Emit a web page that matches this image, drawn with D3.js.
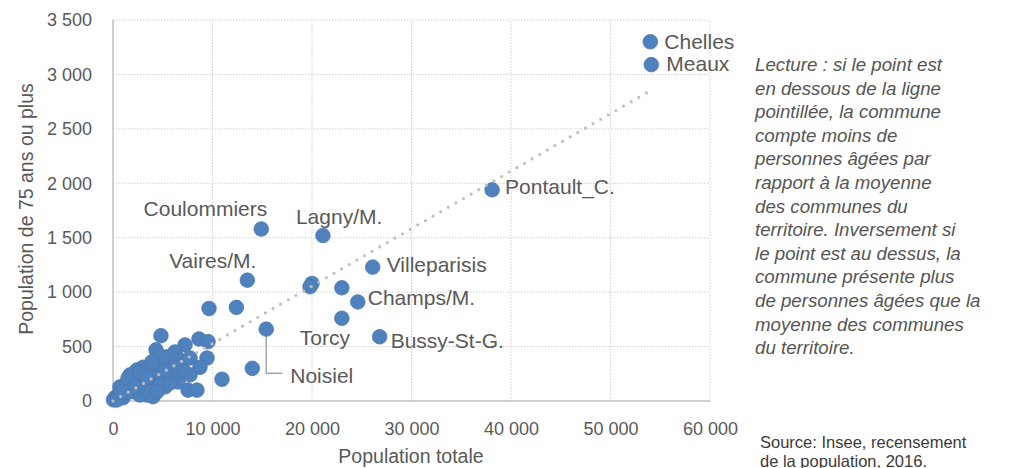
<!DOCTYPE html>
<html>
<head>
<meta charset="utf-8">
<script src="https://cdn.jsdelivr.net/npm/d3@7"></script>
<style>
  body { margin: 0; background: #fff; }
  svg { display: block; font-family: "Liberation Sans", Arial, sans-serif; }
</style>
</head>
<body>
<script>
// Labelled communes: total population and population aged 75+
var labelledNames = ["Chelles", "Meaux", "Pontault_C.", "Coulommiers", "Lagny/M.", "Villeparisis",
    "Vaires/M.", "Champs/M.", "Torcy", "Bussy-St-G.", "Noisiel"];
var labelledTotal = [54000, 54100, 38100, 14900, 21100, 26100, 13500, 24600, 23000, 26800, 15400];
var labelled75 = [3300, 3090, 1940, 1580, 1520, 1230, 1110, 910, 760, 590, 660];

// Other (unlabelled) communes
var otherTotal = [20000, 19800, 23000, 9650, 12400, 14000, 10950, 4820, 4320, 7240, 8640, 9550,
    9450, 8740, 7740, 7540, 8440, 6230, 5730, 6530, 5230, 3720, 3420, 2410, 1710, 1410, 700, 200,
    50, 1000, 2010, 2710, 3720, 4720, 5430, 4520, 6030, 6730, 3020, 2010, 500, 5430, 2710, 7040,
    4020, 400, 1200, 3220,
    1510, 2710, 4220, 3220, 4720, 5730, 6230, 5230, 1510, 2210, 900, 4420, 3420, 4920, 3920, 7740];
var other75 = [1080, 1050, 1040, 850, 860, 300, 200, 600, 470, 515, 570, 545,
    395, 310, 240, 100, 100, 450, 350, 175, 130, 100, 55, 285, 240, 165, 130, 30,
    10, 30, 85, 175, 285, 310, 405, 175, 255, 375, 310, 175, 55, 220, 55, 285,
    40, 10, 75, 150,
    210, 265, 210, 120, 145, 165, 330, 285, 85, 130, 85, 85, 210, 405, 360, 395];

// Dotted trend line (linear fit)
var trendX = [0, 54000];
var trendSlope = 0.0528;

var xTicks = [0, 10000, 20000, 30000, 40000, 50000, 60000];
var yTicks = [0, 500, 1000, 1500, 2000, 2500, 3000, 3500];

var lectureLines = [
    "Lecture : si le point est",
    "en dessous de la ligne",
    "pointillée, la commune",
    "compte moins de",
    "personnes âgées par",
    "rapport à la moyenne",
    "des communes du",
    "territoire. Inversement si",
    "le point est au dessus, la",
    "commune présente plus",
    "de personnes âgées que la",
    "moyenne des communes",
    "du territoire."
];
var sourceLines = ["Source: Insee, recensement", "de la population, 2016."];

var W = 1015, H = 468;
var textGrey = "#595959";

var svg = d3.select("body").append("svg")
    .attr("width", W)
    .attr("height", H);

var x = d3.scaleLinear().domain([0, 60000]).range([113, 710]);
var y = d3.scaleLinear().domain([0, 3500]).range([401, 20]);

var fr = d3.formatLocale({ decimal: ",", thousands: " ", grouping: [3], currency: ["", " €"] });
var fmt = fr.format(",d");

// Grid lines (dotted)
svg.append("g").selectAll("line")
    .data(yTicks.filter(d => d > 0))
    .join("line")
    .attr("x1", x(0)).attr("x2", x(60000))
    .attr("y1", d => y(d)).attr("y2", d => y(d))
    .attr("stroke", "#d0d0d0")
    .attr("stroke-dasharray", "1.5,1.5");

svg.append("g").selectAll("line")
    .data(xTicks.filter(d => d > 0))
    .join("line")
    .attr("x1", d => x(d)).attr("x2", d => x(d))
    .attr("y1", y(0)).attr("y2", y(3500))
    .attr("stroke", "#d0d0d0")
    .attr("stroke-dasharray", "1.5,1.5");

// Axis lines
svg.append("line")
    .attr("x1", x(0)).attr("x2", x(0))
    .attr("y1", y(0)).attr("y2", y(3500))
    .attr("stroke", "#bfbfbf").attr("stroke-width", 1.5);
svg.append("line")
    .attr("x1", x(0)).attr("x2", x(60000))
    .attr("y1", y(0)).attr("y2", y(0))
    .attr("stroke", "#bfbfbf").attr("stroke-width", 1.5);

// Axes (labels only)
var xAxis = svg.append("g")
    .attr("transform", "translate(0," + y(0) + ")")
    .call(d3.axisBottom(x).tickValues(xTicks).tickFormat(fmt).tickSize(0).tickPadding(21));
var yAxis = svg.append("g")
    .attr("transform", "translate(" + x(0) + ",0)")
    .call(d3.axisLeft(y).tickValues(yTicks).tickFormat(fmt).tickSize(0).tickPadding(21));
[xAxis, yAxis].forEach(a => {
    a.select(".domain").remove();
    a.selectAll("text")
        .attr("fill", textGrey)
        .style("font-size", "18px")
        .style("font-family", "'Liberation Sans', Arial, sans-serif");
});

// Axis titles
svg.append("text")
    .attr("x", 411).attr("y", 463)
    .attr("text-anchor", "middle")
    .attr("fill", textGrey)
    .style("font-size", "19.5px")
    .text("Population totale");
svg.append("text")
    .attr("transform", "translate(33,209) rotate(-90)")
    .attr("text-anchor", "middle")
    .attr("fill", textGrey)
    .style("font-size", "19.5px")
    .text("Population de 75 ans ou plus");

// Points
var otherPts = otherTotal.map((t, i) => ({ t: t, v: other75[i] }));
var labelPts = labelledNames.map((n, i) => ({ name: n, t: labelledTotal[i], v: labelled75[i] }));

svg.append("g").selectAll("circle")
    .data(otherPts.concat(labelPts))
    .join("circle")
    .attr("cx", d => x(d.t))
    .attr("cy", d => y(d.v))
    .attr("r", 7.3)
    .attr("fill", "#4f81bd")
    .attr("stroke", "#4a78b0")
    .attr("stroke-width", 0.8);

// Trend line, drawn over the points
svg.append("line")
    .attr("x1", x(trendX[0])).attr("y1", y(trendX[0] * trendSlope))
    .attr("x2", x(trendX[1])).attr("y2", y(trendX[1] * trendSlope))
    .attr("stroke", "#bfbfbf")
    .attr("stroke-width", 3.2)
    .attr("stroke-linecap", "round")
    .attr("stroke-dasharray", "0,8.8");

// Label placement (pixel offsets from the point)
var labelPos = {
    "Chelles": { dx: 14, dy: 0, anchor: "start" },
    "Meaux": { dx: 15, dy: -1, anchor: "start" },
    "Pontault_C.": { dx: 13, dy: -3, anchor: "start" },
    "Coulommiers": { dx: 6, dy: -21, anchor: "end" },
    "Lagny/M.": { dx: -27, dy: -19, anchor: "start" },
    "Villeparisis": { dx: 14, dy: -3, anchor: "start" },
    "Vaires/M.": { dx: 9, dy: -20, anchor: "end" },
    "Champs/M.": { dx: 10, dy: -4, anchor: "start" },
    "Torcy": { dx: -17, dy: 19, anchor: "middle" },
    "Bussy-St-G.": { dx: 11, dy: 4, anchor: "start" },
    "Noisiel": { dx: 24, dy: 46, anchor: "start" }
};

// Leader line for Noisiel
var noisiel = labelPts.find(d => d.name === "Noisiel");
svg.append("polyline")
    .attr("points", [
        [x(noisiel.t), y(noisiel.v) + 7],
        [x(noisiel.t), y(noisiel.v) + 44],
        [x(noisiel.t) + 16, y(noisiel.v) + 44]
    ].map(p => p.join(",")).join(" "))
    .attr("fill", "none")
    .attr("stroke", "#a6a6a6")
    .attr("stroke-width", 1.5);

svg.append("g").selectAll("text")
    .data(labelPts)
    .join("text")
    .attr("x", d => x(d.t) + labelPos[d.name].dx)
    .attr("y", d => y(d.v) + labelPos[d.name].dy)
    .attr("text-anchor", d => labelPos[d.name].anchor)
    .attr("dominant-baseline", "central")
    .attr("fill", textGrey)
    .style("font-size", "21px")
    .text(d => d.name);

// Reading note
svg.append("g").selectAll("text")
    .data(lectureLines)
    .join("text")
    .attr("x", 755)
    .attr("y", (d, i) => 71 + i * 23.6)
    .attr("fill", "#555")
    .style("font-size", "18.7px")
    .style("font-style", "italic")
    .text(d => d);

// Source
svg.append("g").selectAll("text")
    .data(sourceLines)
    .join("text")
    .attr("x", 760)
    .attr("y", (d, i) => 448 + i * 18.5)
    .attr("fill", "#3a3a3a")
    .style("font-size", "16.5px")
    .text(d => d);
</script>
</body>
</html>
